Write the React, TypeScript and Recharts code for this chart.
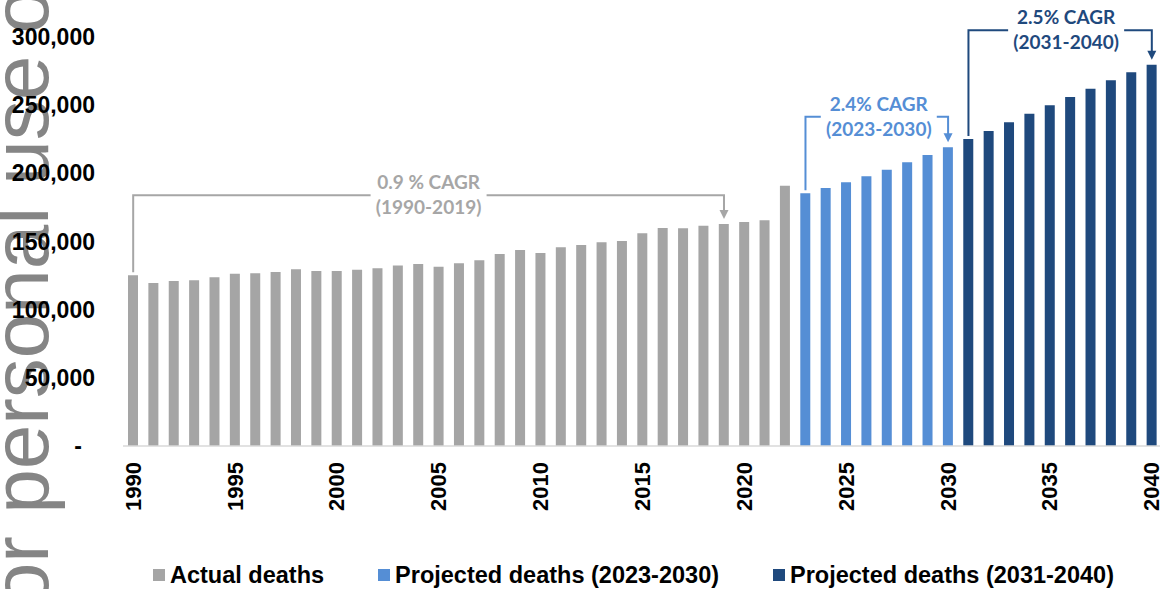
import React from 'react';
import { BarChart, Bar, XAxis, YAxis } from 'recharts';

const years = [
  1990, 1991, 1992, 1993, 1994, 1995, 1996, 1997, 1998, 1999,
  2000, 2001, 2002, 2003, 2004, 2005, 2006, 2007, 2008, 2009,
  2010, 2011, 2012, 2013, 2014, 2015, 2016, 2017, 2018, 2019,
  2020, 2021, 2022, 2023, 2024, 2025, 2026, 2027, 2028, 2029,
  2030, 2031, 2032, 2033, 2034, 2035, 2036, 2037, 2038, 2039,
  2040,
];

// 1990-2022
const actualDeaths = [
  125200, 119600, 121000, 121500, 123700, 126400, 126700, 127600, 129600, 128400,
  128400, 129300, 130400, 132400, 133500, 131500, 134000, 136200, 140800, 143800,
  141600, 145700, 147400, 149400, 150400, 156000, 159900, 159700, 161600, 162800,
  164300, 165600, 190900,
];

// 2023-2030
const projectedTo2030 = [185300, 189200, 193400, 197800, 202700, 208100, 213400, 219100];

// 2031-2040
const projectedTo2040 = [
  225200, 231000, 237400, 243700, 249900, 256000, 262100, 268200, 274100, 279700,
];

const yTicks = [0, 50000, 100000, 150000, 200000, 250000, 300000];

const series = [
  { key: 'actual', name: 'Actual deaths', start: 1990, values: actualDeaths },
  { key: 'proj2030', name: 'Projected deaths (2023-2030)', start: 2023, values: projectedTo2030 },
  { key: 'proj2040', name: 'Projected deaths (2031-2040)', start: 2031, values: projectedTo2040 },
];

const cagrNotes = [
  { rate: '0.9 % CAGR', period: '(1990-2019)', from: 1990, to: 2019, level: 184000 },
  { rate: '2.4% CAGR', period: '(2023-2030)', from: 2023, to: 2030, level: 241500 },
  { rate: '2.5% CAGR', period: '(2031-2040)', from: 2031, to: 2040, level: 305000 },
];

const COLORS: Record<string, string> = {
  actual: '#a5a5a5',
  proj2030: '#558ed5',
  proj2040: '#1f497d',
};
const NOTE_COLORS = ['#a6a6a6', '#558ed5', '#1f497d'];
const NOTE_SHIFT = [0, 2, 6];

const ARIAL = "'Liberation Sans', Arial, sans-serif";

const CHART_W = 1162;
const CHART_H = 589;
const PLOT_LEFT = 123;
const PLOT_TOP = 37;
const PLOT_W = CHART_W - PLOT_LEFT;
const PLOT_H = 409;
const X_AXIS_H = 60;
const Y_MAX = 300000;

const rows = years.map((year) => {
  const row: Record<string, any> = { year: String(year) };
  series.forEach((s) => {
    const v = s.values[year - s.start];
    row[s.key] = year >= s.start && v !== undefined ? v : null;
  });
  return row;
});

// same mapping the chart uses, for the bracket annotations
const band = PLOT_W / years.length;
const xOf = (year: number) => PLOT_LEFT + (years.indexOf(year) + 0.5) * band;
const yOf = (v: number) => PLOT_TOP + PLOT_H * (1 - v / Y_MAX);
const valueOf = (year: number) => {
  const r = rows[years.indexOf(year)];
  return r.actual ?? r.proj2030 ?? r.proj2040;
};

function YTick({ x, y, payload }: any) {
  const zero = payload.value === 0;
  return (
    <text
      x={zero ? x - 13 : x}
      y={y}
      textAnchor="end"
      dominantBaseline="central"
      fontFamily={ARIAL}
      fontWeight="bold"
      fontSize={23}
      fill="#000"
    >
      {zero ? '-' : payload.value.toLocaleString('en-US')}
    </text>
  );
}

function XTick({ x, y, payload }: any) {
  const ty = y + 8;
  return (
    <text
      x={x}
      y={ty}
      transform={`rotate(-90 ${x} ${ty})`}
      textAnchor="end"
      dominantBaseline="central"
      fontFamily={ARIAL}
      fontWeight="bold"
      fontSize={22}
      fill="#000"
    >
      {payload.value}
    </text>
  );
}

function Brackets() {
  const gap = 58;
  return (
    <g fontFamily="Lato, 'Open Sans', sans-serif" fontWeight="bold" fontSize={19}>
      {cagrNotes.map((n, i) => {
        const c = NOTE_COLORS[i];
        const x1 = xOf(n.from);
        const x2 = xOf(n.to);
        const ly = yOf(n.level);
        const cx = (x1 + x2) / 2 + NOTE_SHIFT[i];
        const y1 = yOf(valueOf(n.from)) - 3;
        const tip = yOf(valueOf(n.to)) - 5;
        return (
          <g key={n.rate}>
            <polyline
              points={`${x1},${y1} ${x1},${ly} ${cx - gap},${ly}`}
              fill="none"
              stroke={c}
              strokeWidth={2}
            />
            <polyline
              points={`${cx + gap},${ly} ${x2},${ly} ${x2},${tip - 8}`}
              fill="none"
              stroke={c}
              strokeWidth={2}
            />
            <polygon points={`${x2 - 4.5},${tip - 9} ${x2 + 4.5},${tip - 9} ${x2},${tip}`} fill={c} />
            <text x={cx} y={ly - 6} textAnchor="middle" fill={c}>
              {n.rate}
            </text>
            <text x={cx} y={ly + 19} textAnchor="middle" fill={c}>
              {n.period}
            </text>
          </g>
        );
      })}
    </g>
  );
}

export default function App() {
  return (
    <div
      style={{
        position: 'absolute',
        left: 0,
        top: 0,
        width: 1160,
        height: 589,
        overflow: 'hidden',
        background: '#fff',
      }}
    >
      <svg width={1160} height={589} style={{ position: 'absolute', left: 0, top: 0 }}>
        <text
          x={48}
          y={656}
          transform="rotate(-90 48 656)"
          fontFamily={ARIAL}
          fontSize={80}
          fill="#858585"
        >
          For personal use only
        </text>
        <Brackets />
      </svg>
      <div style={{ position: 'absolute', left: 0, top: 0 }}>
        <BarChart
          width={CHART_W}
          height={CHART_H}
          data={rows}
          margin={{ top: PLOT_TOP, right: 0, left: 0, bottom: CHART_H - PLOT_TOP - PLOT_H - X_AXIS_H }}
        >
          <XAxis
            dataKey="year"
            interval={4}
            height={X_AXIS_H}
            tickLine={false}
            axisLine={{ stroke: '#d9d9d9', strokeWidth: 1.5 }}
            tick={<XTick />}
          />
          <YAxis
            width={PLOT_LEFT}
            domain={[0, Y_MAX]}
            ticks={yTicks}
            axisLine={false}
            tickLine={false}
            tickMargin={22}
            tick={<YTick />}
          />
          {series.map((s) => (
            <Bar
              key={s.key}
              dataKey={s.key}
              name={s.name}
              stackId="deaths"
              barSize={10}
              fill={COLORS[s.key]}
              isAnimationActive={false}
            />
          ))}
        </BarChart>
      </div>
      <div
        style={{
          position: 'absolute',
          left: 153,
          top: 563,
          display: 'flex',
          gap: 54,
          fontFamily: ARIAL,
          fontWeight: 'bold',
          fontSize: 23.5,
          lineHeight: '24px',
          color: '#000',
          whiteSpace: 'nowrap',
        }}
      >
        {series.map((s) => (
          <div key={s.key} style={{ display: 'flex', alignItems: 'center', gap: 5 }}>
            <span style={{ width: 12, height: 12, background: COLORS[s.key], display: 'inline-block' }} />
            <span>{s.name}</span>
          </div>
        ))}
      </div>
    </div>
  );
}
